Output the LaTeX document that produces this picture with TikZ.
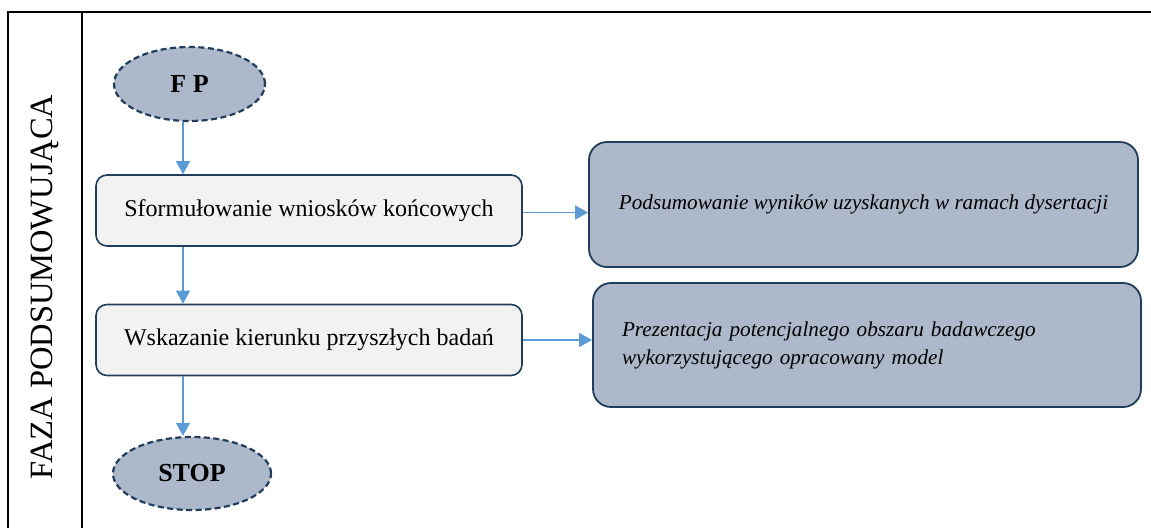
\documentclass[tikz,border=0pt]{standalone}
\usepackage{fontspec}
\setmainfont{Liberation Serif}
\usetikzlibrary{shapes.geometric,arrows.meta}
\definecolor{navy}{HTML}{203D5C}
\definecolor{slate}{HTML}{ADB9CA}
\definecolor{paper}{HTML}{F2F2F2}
\definecolor{flow}{HTML}{5B9BD5}
\begin{document}
\begin{tikzpicture}[x=1pt,y=-1pt,
  term/.style={ellipse,draw=navy,fill=slate,dash pattern=on 6pt off 3.5pt,line width=2.2pt,
    font=\fontsize{26}{30}\selectfont\bfseries,inner sep=0pt},
  stepbox/.style={rectangle,rounded corners=11pt,draw=navy,fill=paper,line width=1.6pt,
    minimum width=426pt,minimum height=71pt,font=\fontsize{24}{28}\selectfont},
  notebox/.style={rectangle,rounded corners=18pt,draw=navy,fill=slate,line width=1.8pt,
    minimum width=549pt,minimum height=125pt,font=\fontsize{21.2}{28}\selectfont\itshape},
  arr/.style={draw=flow,line width=1.4pt,-{Triangle[length=13pt,width=14pt]}}]
\useasboundingbox (0,0) rectangle (1151,528);
% frame of the phase column
\draw[line width=1.6pt] (8,528) -- (8,12) -- (1151,12);
\draw[line width=1.6pt] (82,12) -- (82,528);
\node[rotate=90,font=\fontsize{32.5}{36}\selectfont] (phase) at (45,287) {FAZA PODSUMOWUJĄCA};
% flow nodes
\node[term,minimum width=151pt,minimum height=74pt] (fp) at (189.5,84) {F P};
\node[stepbox] (s1) at (309,210.5) {\raisebox{3pt}{Sformułowanie wniosków końcowych}};
\node[stepbox] (s2) at (309,340) {Wskazanie kierunku przyszłych badań};
\node[notebox] (n1) at (863.5,204.5) {Podsumowanie wyników uzyskanych w ramach dysertacji};
\node[notebox,minimum width=548pt,minimum height=124pt,text width=490pt,align=left] (n2) at (867,345)
  {Prezentacja potencjalnego obszaru badawczego\\wykorzystującego opracowany model};
\node[term,minimum width=158pt,minimum height=73pt] (stop) at (192,473.5) {STOP};
\coordinate (spine) at (183,0);
% connectors
\draw[arr] (fp.south -| spine) -- (s1.north -| spine);
\draw[arr] (s1.south -| spine) -- (s2.north -| spine);
\draw[arr] (s2.south -| spine) -- (stop.north -| spine);
\draw[arr] ([yshift=-2pt]s1.east) -- ([yshift=-2pt]s1.east -| n1.west);
\draw[arr] (s2.east) -- (s2.east -| n2.west);
\end{tikzpicture}
\end{document}
